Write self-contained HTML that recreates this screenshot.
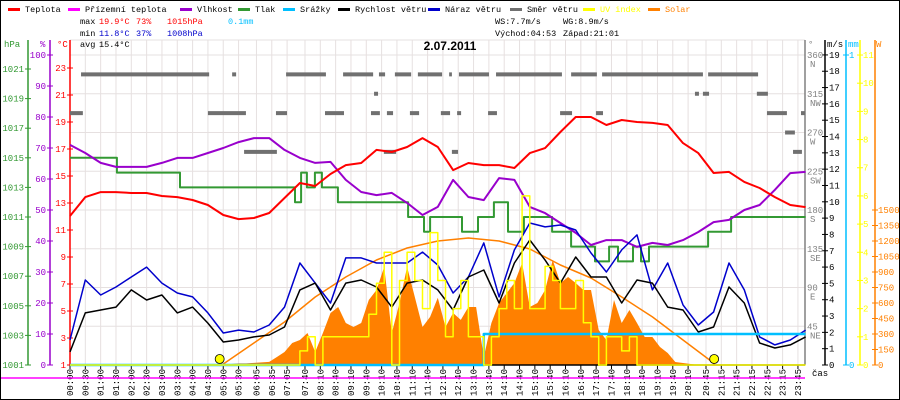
<!DOCTYPE html>
<html><head><meta charset="utf-8"><style>
html,body{margin:0;padding:0;background:#fff;}
svg{display:block;font-family:"Liberation Mono",monospace;}
</style></head><body>
<svg id="chart" width="900" height="400" viewBox="0 0 900 400" xmlns="http://www.w3.org/2000/svg">
<rect x="0.5" y="0.5" width="899" height="399" fill="#fff" stroke="#000"/>
<g id="grid"></g>
<g id="legend" font-size="8.5"></g>
<g font-size="8.5">
<text x="80" y="24">max</text><text x="99" y="24" fill="#f00">19.9°C</text><text x="136" y="24" fill="#f00">73%</text><text x="167" y="24" fill="#f00">1015hPa</text><text x="228" y="24" fill="#00bfff">0.1mm</text>
<text x="80" y="36">min</text><text x="99" y="36" fill="#0000cc">11.8°C</text><text x="136" y="36" fill="#0000cc">37%</text><text x="167" y="36" fill="#0000cc">1008hPa</text>
<text x="80" y="47">avg</text><text x="99" y="47">15.4°C</text>
<text x="495" y="24">WS:7.7m/s</text><text x="563" y="24">WG:8.9m/s</text>
<text x="495" y="36">Východ:04:53</text><text x="563" y="36">Západ:21:01</text>
</g>
<text x="450" y="50" text-anchor="middle" font-family="Liberation Sans, sans-serif" font-weight="bold" font-size="12">2.07.2011</text>
<g id="axes" font-size="9"></g>
<g id="series"></g>
<text x="812" y="376" font-size="9">čas</text>
</svg>
<script>
const times30=[0,0.5,1,1.5,2,2.5,3,3.5,4,4.5,5,5.5,6,6.5,7,7.5,8,8.5,9,9.5,10,10.5,11,11.5,12,12.5,13,13.5,14,14.5,15,15.5,16,16.5,17,17.5,18,18.5,19,19.5,20,20.5,21,21.5,22,22.5,23,23.5,24];
const temperature=[12.04,13.44,13.81,13.81,13.74,13.74,13.52,13.44,13.22,12.85,12.11,11.81,11.89,12.26,13.37,14.48,14.26,15.15,15.81,15.96,16.93,16.78,17.15,17.81,17.15,15.44,15.96,15.81,15.81,15.59,16.70,17.07,18.26,19.37,19.37,18.78,19.15,19.0,18.93,18.78,17.44,16.70,15.22,15.30,14.56,14.11,13.44,12.85,12.70];
const humidity=[71.0,68.4,65.2,63.9,63.9,63.9,65.2,66.8,66.8,68.4,70.0,71.9,73.2,73.2,69.4,66.8,65.2,65.5,59.7,55.8,54.8,55.5,52.3,48.4,51.0,59.7,54.2,53.2,60.3,59.7,51.0,49.0,45.8,42.6,38.7,40.3,40.3,38.1,39.4,38.7,40.3,42.9,46.1,46.8,50.0,51.6,56.5,61.9,62.3];
const windSpeed=[0.80,3.19,3.37,3.55,4.60,3.98,4.29,3.19,3.55,2.57,1.41,1.53,1.72,1.84,2.33,4.60,5.02,3.37,5.02,5.21,4.78,3.55,5.02,5.21,4.6,3.37,5.39,5.82,3.80,6.25,7.66,6.43,5.02,6.62,5.39,5.39,3.80,5.21,5.02,3.55,3.37,2.02,2.33,4.78,3.80,1.35,1.04,1.23,1.72];
const windGust=[1.53,5.21,4.29,4.78,5.39,6.00,5.02,4.41,4.17,3.19,1.96,2.14,2.02,2.45,3.55,6.25,5.02,3.80,6.56,6.56,6.25,6.25,6.25,6.92,6.13,4.41,5.39,7.48,4.17,7.05,8.70,8.46,8.58,8.27,6.86,5.70,7.05,7.97,4.60,6.25,3.68,2.45,3.25,6.25,4.60,1.72,1.23,1.53,2.14];
const pressureTimes=[0,1.53,3.59,7.34,7.54,7.73,7.99,8.22,8.74,11.03,11.55,11.75,12.79,13.31,13.83,14.29,14.81,15.73,16.35,17.13,17.59,17.88,18.37,18.63,18.89,20.82,21.57,24];
const pressure=[1015,1014,1013,1012,1014,1013,1014,1013,1012,1011,1010,1011,1010,1011,1012,1010,1011,1010,1009,1008,1009,1008,1009,1008,1009,1010,1011,1011];
const solar15=[0,0,0,0,0,0,0,0,0,0,0,0,0,0,0,0,0,0,0,0,0,10,15,15,20,25,30,77,126,213,242,310,126,310,503,561,406,368,406,629,726,949,310,600,949,658,368,465,650,368,503,436,561,561,77,406,600,697,794,987,561,600,726,1016,794,852,794,726,726,339,242,629,406,532,406,271,271,174,116,29,19,10,0,0,0,0,0,0,0,0,0,0,0,0,0,0,0];
const uv15=[0,0,0,0,0,0,0,0,0,0,0,0,0,0,0,0,0,0,0,0,0,0,0,0,0,0,0,0,0,0,0.5,1,0,1,1,1,1,1,1,1.8,2.9,4,0,3,4,3,2,4.7,3,1,2,3,1,1,0,1,2,3,2,6,2,2,3.5,3,2,2,3,1.5,1,0,1,1,0.5,1,0,0,0,0,0,0,0,0,0,0,0,0,0,0,0,0,0,0,0,0,0,0,0];
const sunTimes=[4.88,5,6,7,8,9,10,11,12,13,14,15,16,17,18,19,20,21,21.02];
const sunMax=[0,10,213,416,658,852,1016,1132,1200,1229,1200,1123,968,842,658,465,242,19,0];
const rainTimes=[0,13.5,13.5,24];
const rainMm=[0,0,0.1,0.1];
const dirStart=[0.36,5.29,7.05,8.91,10.08,10.60,11.35,12.37,12.69,13.90,16.35,17.36,20.82,9.92,20.39,20.65,22.41,0,4.50,6.72,8.32,9.82,10.34,11.09,12.10,12.63,13.64,15.99,17.16,22.74,23.85,23.33,5.68,10.24,12.46,23.59];
const dirEnd=[4.54,5.42,8.35,9.89,10.28,11.13,12.14,12.46,13.67,16.05,17.19,20.65,22.45,10.05,20.52,20.85,22.77,0.42,5.74,7.08,8.94,10.11,10.54,11.39,12.40,12.76,13.93,16.38,17.39,23.39,23.98,23.65,6.75,10.64,12.66,23.88];
const dirDeg=[337.5,337.5,337.5,337.5,337.5,337.5,337.5,337.5,337.5,337.5,337.5,337.5,337.5,315,315,315,315,292.5,292.5,292.5,292.5,292.5,292.5,292.5,292.5,292.5,292.5,292.5,292.5,292.5,292.5,270,247.5,247.5,247.5,247.5];
const timeLabels=["00:00","00:30","01:00","01:30","02:00","02:30","03:00","03:30","04:00","04:30","05:00","05:30","06:05","06:35","07:05","07:40","08:10","08:40","09:10","09:40","10:10","10:40","11:10","11:40","12:10","12:40","13:10","13:40","14:10","14:40","15:10","15:40","16:10","16:40","17:10","17:40","18:10","18:40","19:10","19:40","20:10","20:45","21:15","21:45","22:15","22:45","23:15","23:45"];
const sunEvents=[4.883,21.017];

const NS="http://www.w3.org/2000/svg";
const xT=h=>70+h*30.65;
const yC=c=>365-(c-1)*13.5;
const yH=p=>365-p*3.1;
const yP=v=>365-(v-1001)*14.8;
const yW=m=>365-m*16.32;
const yD=d=>365-d*0.8611;
const yS=w=>365-w*155/1500;
const yU=u=>365-u*28.18;
const yR=mm=>365-mm*310;
function mk(tag,parent,attrs){const e=document.createElementNS(NS,tag);for(const k in attrs)e.setAttribute(k,attrs[k]);parent.appendChild(e);return e;}
const G=document.getElementById('grid'),A=document.getElementById('axes'),S=document.getElementById('series'),L=document.getElementById('legend');
const hm=s=>{const p=s.split(':');return +p[0]+ +p[1]/60;};

for(let i=0;i<=8;i++){const y=yD(i*45);const l=mk('line',G,{x1:70,x2:805,y1:y,y2:y,stroke:'#e6e0e0'});

}
{const l=mk('line',G,{x1:70,x2:805,y1:40,y2:40,stroke:'#e6e0e0'});

}
timeLabels.forEach(t=>{const x=xT(hm(t));const l=mk('line',G,{x1:x,x2:x,y1:40,y2:365,stroke:'#e6e0e0'});


const tk=mk('line',A,{x1:x,x2:x,y1:365,y2:369,stroke:'#000'});


const tx=mk('text',A,{x:0,y:0,transform:`translate(${x+3},369) rotate(-90)`,'text-anchor':'end','font-size':'9'});tx.textContent=t;

});

const legNames=["Teplota","Přízemní teplota","Vlhkost","Tlak","Srážky","Rychlost větru","Náraz větru","Směr větru","UV index","Solar"];
const legCols=["#f00","#f0f","#9900cc","#339933","#00bfff","#000","#0000cc","#707070","#ffff00","#ff8000"];
const legX=[8,68,180,238,283,338,428,510,583,648];
legNames.forEach((n,i)=>{const r=mk('rect',L,{x:legX[i],y:8,width:12,height:3,fill:legCols[i]});


const t=mk('text',L,{x:legX[i]+17,y:12,fill:(i==8||i==9)?legCols[i]:'#000'});t.textContent=n;

});

function axis(x,col,name,vals,yf,labelX,anchor,tick){const ln=mk('line',A,{x1:x,x2:x,y1:40,y2:365,stroke:col,'stroke-width':1.5});


vals.forEach(v=>{const y=yf(v);const tk=mk('line',A,{x1:x-tick,x2:x+3,y1:y,y2:y,stroke:col});


const t=mk('text',A,{x:labelX,y:y+3,fill:col,'text-anchor':anchor});t.textContent=v;

});}
axis(28,'#339933','pressure',[1001,1003,1005,1007,1009,1011,1013,1015,1017,1019,1021],yP,24,'end',3);
axis(50,'#9900cc','humidity',[0,10,20,30,40,50,60,70,80,90,100],yH,46,'end',3);
axis(70,'#f00','temperature',[1,3,5,7,9,11,13,15,17,19,21,23],yC,66,'end',3);
axis(825,'#000','wind-speed',Array.from({length:20},(_,i)=>i),yW,829,'start',3);
axis(846,'#00bfff','rain',[0,1],yR,849,'start',3);
axis(860,'#ffff00','uv',[0,1,2,3,4,5,6,7,8,9,10,11],yU,863,'start',3);
axis(875,'#ff8000','solar',[0,150,300,450,600,750,900,1050,1200,1350,1500],yS,878,'start',3);
{const ln=mk('line',A,{x1:805,x2:805,y1:40,y2:365,stroke:'#808080','stroke-width':1.5});


const comp=["","NE","E","SE","S","SW","W","NW","N"];
for(let i=1;i<=8;i++){const y=yD(i*45);const t=mk('text',A,{x:807,y:y+3,fill:'#808080'});t.textContent=i*45;


const c=mk('text',A,{x:810,y:y+12,fill:'#808080'});c.textContent=comp[i];

}}
[["hPa",4,'#339933'],["%",40,'#9900cc'],["°C",57,'#f00'],["°",808,'#808080'],["m/s",827,'#000'],["mm",848,'#00bfff'],["W",876,'#ff8000']].forEach(u=>{const t=mk('text',A,{x:u[1],y:47,fill:u[2]});t.textContent=u[0];

});

const t15=solar15.map((_,i)=>i*0.25);
let sp=`M${xT(0)},365 `+solar15.map((v,i)=>`L${xT(t15[i]).toFixed(1)},${yS(v).toFixed(1)}`).join(' ')+` L${xT(24)},365Z`;
{const p=mk('path',S,{d:sp,fill:'#ff8000'});

}
function line(ts,vs,yf,col,w,name,step){let d='';vs.forEach((v,i)=>{const x=xT(ts[i]).toFixed(1),y=yf(v).toFixed(1);
if(i==0)d+=`M${x},${y}`;else if(step){d+=` L${x},${yf(vs[i-1]).toFixed(1)} L${x},${y}`;}else d+=` L${x},${y}`;});
const p=mk('path',S,{d:d,fill:'none',stroke:col,'stroke-width':w,'stroke-linejoin':'round'});

}
line(sunTimes,sunMax,yS,'#ff8000',1.5,'solar-max-line');
for(let i=0;i<dirDeg.length;i++){const r=mk('rect',S,{x:xT(dirStart[i]),y:yD(dirDeg[i])-2,width:xT(dirEnd[i])-xT(dirStart[i]),height:4,fill:'#707070'});

}
line(pressureTimes,pressure,yP,'#339933',2,'pressure-line',true);
line(times30,humidity,yH,'#9900cc',2,'humidity-line');
line(times30,temperature,yC,'#f00',2,'temperature-line');
line(times30,windGust,yW,'#0000cc',1.5,'wind-gust-line');
line(times30,windSpeed,yW,'#000',1.5,'wind-speed-line');
{const l=mk('line',S,{x1:1,x2:805,y1:378,y2:378,stroke:'#f0f','stroke-width':1.5});

}
{const l=mk('line',S,{x1:70,x2:805,y1:365,y2:365,stroke:'#000','stroke-width':1.5});

}
line(rainTimes,rainMm,yR,'#00bfff',2.5,'rain-line');
line(t15,uv15,yU,'#ffff00',1.5,'uv-line',true);
sunEvents.forEach((h,i)=>{const c=mk('circle',S,{cx:xT(h),cy:359,r:4.5,fill:'#ffff00',stroke:'#000','stroke-width':0.8});

});
</script>
</body></html>
